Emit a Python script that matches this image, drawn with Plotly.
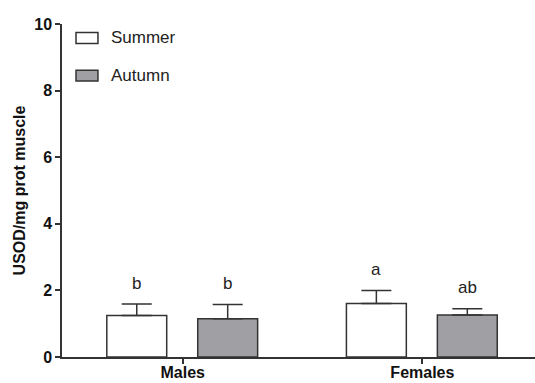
import plotly.graph_objects as go

categories = ["Males", "Females"]
summer = [1.25, 1.61]
summer_err = [0.34, 0.39]
autumn = [1.15, 1.26]
autumn_err = [0.43, 0.19]
summer_letters = ["b", "a"]
autumn_letters = ["b", "ab"]
y_ticks = [0, 2, 4, 6, 8, 10]

xpos = [0, 1]
BW = 0.25
line_col = "#333333"
font = "Liberation Sans, Arial, sans-serif"

fig = go.Figure()
fig.add_trace(go.Bar(
    x=xpos, y=summer, width=BW, offset=-0.317, name="Summer",
    marker=dict(color="white", line=dict(color=line_col, width=1.5)),
    error_y=dict(type="data", array=summer_err, arrayminus=[0, 0], symmetric=False,
                 color=line_col, thickness=1.5, width=15),
    showlegend=False))
fig.add_trace(go.Bar(
    x=xpos, y=autumn, width=BW, offset=0.0625, name="Autumn",
    marker=dict(color="#a0a0a4", line=dict(color=line_col, width=1.5)),
    error_y=dict(type="data", array=autumn_err, arrayminus=[0, 0], symmetric=False,
                 color=line_col, thickness=1.5, width=15),
    showlegend=False))

for i in range(len(categories)):
    fig.add_annotation(x=xpos[i] - 0.317 + BW / 2, y=summer[i] + summer_err[i],
                       text=summer_letters[i], showarrow=False, yanchor="middle",
                       yshift=21, font=dict(size=17, color="#222", family=font))
    fig.add_annotation(x=xpos[i] + 0.0625 + BW / 2, y=autumn[i] + autumn_err[i],
                       text=autumn_letters[i], showarrow=False, yanchor="middle",
                       yshift=21, font=dict(size=17, color="#222", family=font))

# manual legend
leg = [("Summer", "white", 0.958), ("Autumn", "#a0a0a4", 0.845)]
for name, col, yy in leg:
    fig.add_shape(type="rect", xref="paper", yref="paper",
                  x0=0.0296, x1=0.076, y0=yy - 0.0164, y1=yy + 0.0164,
                  fillcolor=col, line=dict(color=line_col, width=1.5))
    fig.add_annotation(xref="paper", yref="paper", x=0.099, y=yy, text=name,
                       showarrow=False, xanchor="left", yanchor="middle",
                       font=dict(size=17, color="#222", family=font))

fig.update_layout(
    width=535, height=383,
    margin=dict(l=62, r=0, t=24, b=26),
    paper_bgcolor="white", plot_bgcolor="white",
    barmode="overlay",
    font=dict(family=font, color="#111"),
    xaxis=dict(range=[-0.504, 1.47], tickvals=xpos, ticktext=categories,
               showline=True, linecolor=line_col, linewidth=1.5,
               ticks="outside", ticklen=5, tickcolor=line_col, tickwidth=1.5,
               ticklabelstandoff=-5,
               tickfont=dict(size=16, family=font, weight="bold", color="#111"),
               showgrid=False, zeroline=False, fixedrange=True, automargin=False),
    yaxis=dict(range=[0, 10], tickvals=y_ticks,
               showline=True, linecolor=line_col, linewidth=1.5,
               ticks="outside", ticklen=5, tickcolor=line_col, tickwidth=1.5,
               tickfont=dict(size=16, family=font, weight="bold", color="#111"),
               title=dict(text="USOD/mg prot muscle", standoff=5,
                          font=dict(size=16, family=font, weight="bold", color="#111")),
               showgrid=False, zeroline=False, fixedrange=True, automargin=False),
)

fig.write_html("out.html")
